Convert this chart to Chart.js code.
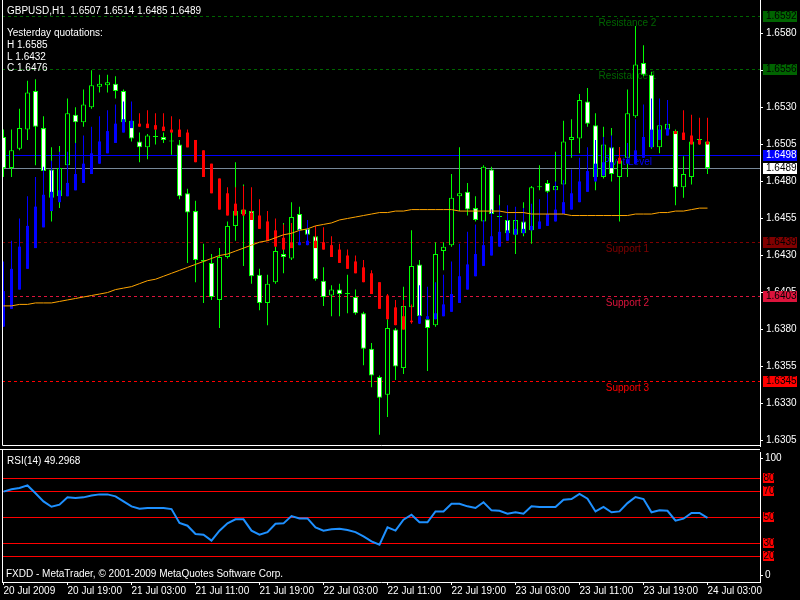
<!DOCTYPE html>
<html>
<head>
<meta charset="utf-8">
<title>GBPUSD,H1</title>
<script src="https://cdn.jsdelivr.net/npm/chart.js@4.4.1/dist/chart.umd.min.js"></script>
<style>
  html, body { margin: 0; padding: 0; background: #000; }
  #priceChart { position: absolute; left: 0; top: 0; }
  #rsiChart { position: absolute; left: 0; top: 448px; }
</style>
</head>
<body>
<canvas id="priceChart" width="800" height="447"></canvas>
<canvas id="rsiChart" width="800" height="152"></canvas>
<script>
// GBPUSD H1 - candles, smoothed Heiken Ashi, MA, pivot levels and RSI(14)

// Candles, one per hour, 20 Jul 11:00 .. 24 Jul 03:00
const candleOpen = [1.6510,1.6489,1.6502,1.6515,1.6541,1.6516,1.6488,1.6470,1.6491,1.6525,
  1.6520,1.6530,1.6544,1.6545,1.6546,1.6541,1.6521,1.6507,1.6503,1.6510,
  1.6510,1.6507,1.6505,1.6472,1.6460,1.6427,1.6425,1.6400,1.6429,1.6450,
  1.6461,1.6460,1.6417,1.6398,1.6412,1.6431,1.6428,1.6458,1.6448,1.6443,
  1.6413,1.6403,1.6407,1.6404,1.6402,1.6391,1.6367,1.6348,1.6336,1.6380,
  1.6354,1.6395,1.6424,1.6387,1.6383,1.6433,1.6437,1.6470,1.6473,1.6462,
  1.6453,1.6488,1.6456,1.6454,1.6444,1.6453,1.6447,1.6476,1.6479,1.6474,
  1.6478,1.6508,1.6509,1.6534,1.6518,1.6483,1.6503,1.6483,1.6496,1.6524,
  1.6560,1.6552,1.6503,1.6515,1.6514,1.6476,1.6483,1.6508,1.6507];
const candleHigh = [1.6515,1.6515,1.6529,1.6548,1.6549,1.6524,1.6503,1.6504,1.6536,1.6530,
  1.6542,1.6555,1.6552,1.6552,1.6551,1.6542,1.6522,1.6513,1.6512,1.6515,
  1.6513,1.6515,1.6508,1.6475,1.6467,1.6438,1.6431,1.6435,1.6453,1.6493,
  1.6478,1.6462,1.6421,1.6417,1.6436,1.6452,1.6466,1.6463,1.6450,1.6444,
  1.6422,1.6410,1.6411,1.6417,1.6407,1.6392,1.6371,1.6349,1.6387,1.6381,
  1.6409,1.6447,1.6427,1.6389,1.6439,1.6439,1.6485,1.6503,1.6479,1.6470,
  1.6491,1.6490,1.6471,1.6455,1.6455,1.6466,1.6477,1.6491,1.6481,1.6500,
  1.6521,1.6522,1.6539,1.6543,1.6526,1.6517,1.6516,1.6503,1.6542,1.6585,
  1.6572,1.6554,1.6519,1.6520,1.6515,1.6497,1.6508,1.6514,1.6514];
const candleLow = [1.6483,1.6483,1.6501,1.6508,1.6491,1.6486,1.6453,1.6462,1.6490,1.6506,
  1.6517,1.6529,1.6540,1.6540,1.6536,1.6519,1.6507,1.6493,1.6495,1.6505,
  1.6506,1.6498,1.6468,1.6425,1.6412,1.6398,1.6400,1.6381,1.6428,1.6440,
  1.6423,1.6411,1.6393,1.6383,1.6411,1.6418,1.6427,1.6442,1.6443,1.6413,
  1.6396,1.6389,1.6389,1.6391,1.6390,1.6356,1.6341,1.6309,1.6321,1.6346,
  1.6350,1.6394,1.6384,1.6352,1.6382,1.6420,1.6436,1.6460,1.6457,1.6453,
  1.6452,1.6457,1.6455,1.6444,1.6431,1.6443,1.6438,1.6474,1.6472,1.6473,
  1.6477,1.6496,1.6499,1.6517,1.6474,1.6482,1.6480,1.6453,1.6483,1.6523,
  1.6551,1.6502,1.6499,1.6514,1.6464,1.6469,1.6478,1.6505,1.6485];
const candleClose = [1.6489,1.6501,1.6516,1.6540,1.6517,1.6487,1.6469,1.6489,1.6526,1.6520,
  1.6532,1.6545,1.6546,1.6547,1.6541,1.6520,1.6509,1.6503,1.6511,1.6510,
  1.6508,1.6507,1.6470,1.6459,1.6427,1.6426,1.6402,1.6429,1.6450,1.6460,
  1.6458,1.6416,1.6398,1.6411,1.6433,1.6429,1.6456,1.6447,1.6444,1.6414,
  1.6402,1.6407,1.6404,1.6404,1.6391,1.6367,1.6349,1.6334,1.6381,1.6355,
  1.6396,1.6423,1.6389,1.6381,1.6431,1.6436,1.6469,1.6472,1.6461,1.6454,
  1.6490,1.6458,1.6456,1.6445,1.6454,1.6445,1.6476,1.6476,1.6473,1.6477,
  1.6507,1.6510,1.6535,1.6519,1.6483,1.6505,1.6485,1.6494,1.6526,1.6559,
  1.6552,1.6503,1.6518,1.6519,1.6476,1.6485,1.6507,1.6508,1.6489];

// Smoothed Heiken Ashi bars (blue up, red down)
const haOpen = [1.6382,1.6394,1.6407,1.6421,1.6435,1.6449,1.6460,1.6466,1.6470,1.6474,
  1.6479,1.6485,1.6492,1.6499,1.6506,1.6513,1.6516,1.6519,1.6519,1.6518,
  1.6517,1.6515,1.6515,1.6513,1.6508,1.6501,1.6492,1.6482,1.6472,1.6465,
  1.6461,1.6459,1.6457,1.6453,1.6447,1.6442,1.6439,1.6437,1.6437,1.6440,
  1.6439,1.6437,1.6434,1.6430,1.6426,1.6422,1.6418,1.6412,1.6403,1.6395,
  1.6389,1.6386,1.6384,1.6387,1.6387,1.6389,1.6392,1.6398,1.6407,1.6416,
  1.6423,1.6430,1.6436,1.6440,1.6444,1.6445,1.6447,1.6448,1.6450,1.6453,
  1.6458,1.6461,1.6466,1.6473,1.6480,1.6484,1.6489,1.6496,1.6492,1.6492,
  1.6496,1.6503,1.6508,1.6511,1.6514,1.6513,1.6511,1.6508,1.6507];
const haHigh = [1.6426,1.6440,1.6455,1.6470,1.6483,1.6490,1.6494,1.6500,1.6500,1.6506,
  1.6511,1.6517,1.6524,1.6528,1.6532,1.6534,1.6534,1.6526,1.6528,1.6526,
  1.6526,1.6524,1.6522,1.6515,1.6508,1.6501,1.6492,1.6482,1.6476,1.6476,
  1.6477,1.6476,1.6468,1.6460,1.6455,1.6451,1.6452,1.6448,1.6454,1.6450,
  1.6449,1.6443,1.6438,1.6434,1.6430,1.6427,1.6420,1.6412,1.6404,1.6400,
  1.6400,1.6397,1.6410,1.6409,1.6412,1.6417,1.6426,1.6438,1.6446,1.6451,
  1.6454,1.6461,1.6464,1.6464,1.6463,1.6462,1.6465,1.6468,1.6472,1.6480,
  1.6481,1.6488,1.6496,1.6503,1.6508,1.6510,1.6511,1.6503,1.6506,1.6522,
  1.6532,1.6536,1.6536,1.6535,1.6514,1.6528,1.6525,1.6523,1.6523];
const haLow = [1.6382,1.6394,1.6407,1.6421,1.6435,1.6449,1.6460,1.6466,1.6470,1.6474,
  1.6479,1.6485,1.6492,1.6499,1.6506,1.6513,1.6516,1.6517,1.6516,1.6515,
  1.6514,1.6513,1.6510,1.6503,1.6493,1.6483,1.6472,1.6461,1.6457,1.6457,
  1.6457,1.6454,1.6448,1.6440,1.6436,1.6434,1.6435,1.6437,1.6437,1.6435,
  1.6434,1.6429,1.6425,1.6421,1.6418,1.6412,1.6404,1.6394,1.6387,1.6383,
  1.6380,1.6384,1.6384,1.6387,1.6387,1.6389,1.6392,1.6398,1.6407,1.6416,
  1.6423,1.6430,1.6436,1.6440,1.6444,1.6445,1.6447,1.6448,1.6450,1.6453,
  1.6458,1.6461,1.6466,1.6473,1.6480,1.6484,1.6489,1.6492,1.6492,1.6492,
  1.6496,1.6503,1.6508,1.6511,1.6512,1.6508,1.6505,1.6505,1.6505];
const haClose = [1.6406,1.6421,1.6436,1.6450,1.6463,1.6471,1.6473,1.6474,1.6479,1.6485,
  1.6492,1.6499,1.6507,1.6514,1.6519,1.6522,1.6521,1.6517,1.6516,1.6515,
  1.6514,1.6513,1.6510,1.6503,1.6493,1.6483,1.6472,1.6461,1.6457,1.6457,
  1.6457,1.6454,1.6448,1.6440,1.6436,1.6434,1.6435,1.6439,1.6440,1.6435,
  1.6434,1.6429,1.6425,1.6421,1.6418,1.6412,1.6404,1.6394,1.6387,1.6383,
  1.6380,1.6385,1.6389,1.6389,1.6391,1.6397,1.6404,1.6416,1.6424,1.6431,
  1.6437,1.6443,1.6446,1.6447,1.6448,1.6448,1.6450,1.6453,1.6458,1.6461,
  1.6466,1.6472,1.6480,1.6487,1.6492,1.6493,1.6493,1.6492,1.6495,1.6501,
  1.6510,1.6515,1.6515,1.6516,1.6512,1.6508,1.6505,1.6505,1.6505];

// Moving average (orange)
const maValues = [1.6396,1.6396,1.6397,1.6397,1.6398,1.6398,1.6398,1.6399,1.6400,1.6401,
  1.6402,1.6403,1.6404,1.6405,1.6407,1.6408,1.6409,1.6411,1.6413,1.6414,
  1.6416,1.6418,1.6420,1.6422,1.6424,1.6426,1.6428,1.6430,1.6431,1.6433,
  1.6435,1.6437,1.6439,1.6440,1.6442,1.6444,1.6445,1.6447,1.6448,1.6450,
  1.6451,1.6452,1.6454,1.6455,1.6456,1.6457,1.6458,1.6459,1.6459,1.6460,
  1.6460,1.6461,1.6461,1.6461,1.6461,1.6461,1.6461,1.6460,1.6460,1.6460,
  1.6460,1.6460,1.6460,1.6459,1.6459,1.6459,1.6458,1.6458,1.6458,1.6458,
  1.6458,1.6457,1.6457,1.6457,1.6457,1.6457,1.6457,1.6457,1.6457,1.6458,
  1.6458,1.6458,1.6459,1.6459,1.6460,1.6460,1.6461,1.6462,1.6462];

// RSI(14)
const rsiValues = [69.5,71.3,72.3,74.3,68.3,62.0,57.9,59.5,65.1,64.6,
  65.1,66.6,67.4,67.4,65.9,62.0,58.2,56.4,56.9,56.9,
  56.9,56.1,45.4,43.3,36.9,36.4,31.8,39.5,45.1,48.2,
  48.2,39.5,36.4,38.4,44.8,45.1,50.7,48.9,48.9,42.0,
  39.5,40.5,41.0,40.0,38.4,35.1,31.3,28.7,42.0,39.5,
  47.9,51.8,45.9,45.9,54.3,54.3,60.2,60.2,58.2,56.9,
  61.3,55.1,54.8,52.5,53.6,52.5,58.2,57.7,57.7,57.7,
  63.3,63.8,67.7,64.1,54.3,57.7,53.6,54.3,60.7,65.4,
  63.8,53.6,55.1,54.8,47.2,48.7,53.1,53.1,49.3];
const rsiLevels = [20, 30, 50, 70, 80];

// Axis ticks
const priceTicks = [1.6305,1.6330,1.6355,1.6380,1.6405,1.6430,1.6455,1.6480,1.6505,1.6530,1.6555,1.6580];
const xTickBars = [0, 8, 16, 24, 32, 40, 48, 56, 64, 72, 80, 88];
const xTickLabels = ['20 Jul 2009','20 Jul 19:00','21 Jul 03:00','21 Jul 11:00','21 Jul 19:00','22 Jul 03:00',
  '22 Jul 11:00','22 Jul 19:00','23 Jul 03:00','23 Jul 11:00','23 Jul 19:00','24 Jul 03:00'];

// Pivot levels
const levelNames = ['Resistance 2','Resistance 1','Pivot Level','Support 1','Support 2','Support 3'];
const levelValues = [1.6592, 1.6556, 1.6498, 1.6439, 1.6403, 1.6345];
const levelColors = ['#006400','#006400','#0000ff','#800000','#dc143c','#ff0000'];
const levelDashed = [true, true, false, true, true, true];
const bidPrice = 1.6489;

const headerText = 'GBPUSD,H1  1.6507 1.6514 1.6485 1.6489';
const yesterdayLines = ['Yesterday quotations:', 'H 1.6585', 'L 1.6432', 'C 1.6476'];
const rsiCaption = 'RSI(14) 49.2968';
const footerText = 'FXDD - MetaTrader, \u00a9 2001-2009 MetaQuotes Software Corp.';

const FONT_FAMILY = '"Liberation Sans", Arial, sans-serif';
const FONT = '10px ' + FONT_FAMILY;
Chart.defaults.font.family = FONT_FAMILY;
Chart.defaults.font.size = 10;
Chart.defaults.color = '#ffffff';

// 8 px per bar, same x range for both panels
const X_MIN = -0.1875;
const X_MAX = X_MIN + 758 / 8;
const LEVEL_LABEL_BAR = 78;
const bars = candleOpen.map((_, i) => i);

function haColor(i) {
    return haClose[i] >= haOpen[i] ? '#0000ff' : '#ff0000';
}

const xScale = {
    type: 'linear', min: X_MIN, max: X_MAX, offset: false, display: false
};

const pricePlugin = {
    id: 'pricePlugin',
    beforeDatasetsDraw(chart) {
        const { ctx, chartArea: area, scales: { x, y } } = chart;
        ctx.save();
        ctx.lineWidth = 1;
        ctx.font = FONT;
        ctx.textAlign = 'center';
        ctx.textBaseline = 'middle';
        levelValues.forEach((v, k) => {
            const py = Math.round(y.getPixelForValue(v)) + 0.5;
            ctx.strokeStyle = levelColors[k];
            ctx.setLineDash(levelDashed[k] ? [3, 3] : []);
            ctx.beginPath();
            ctx.moveTo(area.left, py);
            ctx.lineTo(area.right, py);
            ctx.stroke();
            ctx.fillStyle = levelColors[k];
            ctx.fillText(levelNames[k], x.getPixelForValue(LEVEL_LABEL_BAR), py + 7);
        });
        // bid line
        const by = Math.round(y.getPixelForValue(bidPrice)) + 0.5;
        ctx.setLineDash([]);
        ctx.strokeStyle = '#778899';
        ctx.beginPath();
        ctx.moveTo(area.left, by);
        ctx.lineTo(area.right, by);
        ctx.stroke();
        ctx.restore();
    },
    afterDraw(chart) {
        const { ctx, chartArea: area, scales: { y } } = chart;
        const boxes = levelValues.map((v, k) => ({ value: v, bg: levelColors[k], fg: k === 2 ? '#ffffff' : '#000000' }));
        boxes.push({ value: bidPrice, bg: '#ffffff', fg: '#000000' });
        ctx.save();
        ctx.font = FONT;
        ctx.textAlign = 'left';
        ctx.textBaseline = 'middle';
        boxes.forEach(b => {
            const py = Math.round(y.getPixelForValue(b.value));
            ctx.fillStyle = b.bg;
            ctx.fillRect(area.right + 3, py - 5, 34, 11);
            ctx.fillStyle = b.fg;
            ctx.fillText(b.value.toFixed(4), area.right + 6, py + 0.5);
        });
        // frame
        ctx.strokeStyle = '#ffffff';
        ctx.lineWidth = 1;
        ctx.beginPath();
        ctx.moveTo(area.left + 0.5, area.top);
        ctx.lineTo(area.left + 0.5, area.bottom - 0.5);
        ctx.lineTo(area.right, area.bottom - 0.5);
        ctx.stroke();
        // header texts
        ctx.fillStyle = '#ffffff';
        ctx.fillText(headerText, 7, 11);
        yesterdayLines.forEach((t, k) => ctx.fillText(t, 7, 33.5 + k * 11.7));
        ctx.restore();
    }
};

new Chart(document.getElementById('priceChart'), {
    type: 'bar',
    data: {
        datasets: [
            {
                label: 'Wicks',
                data: bars.map(i => ({ x: i, y: [candleLow[i], candleHigh[i]] })),
                backgroundColor: '#00ff00',
                barThickness: 1, maxBarThickness: 1,
                grouped: false, inflateAmount: 0, order: 5
            },
            {
                label: 'Bodies',
                data: bars.map(i => ({ x: i, y: [candleOpen[i], candleClose[i]] })),
                backgroundColor: c => candleClose[c.dataIndex] < candleOpen[c.dataIndex] ? '#ffffff' : '#000000',
                borderColor: '#00ff00', borderWidth: 1, borderSkipped: false,
                barThickness: 5, maxBarThickness: 5, minBarLength: 1,
                grouped: false, inflateAmount: 0, order: 4
            },
            {
                label: 'HA wicks',
                data: bars.map(i => ({ x: i, y: [haLow[i], haHigh[i]] })),
                backgroundColor: c => haColor(c.dataIndex),
                barThickness: 1, maxBarThickness: 1, minBarLength: 1,
                grouped: false, inflateAmount: 0, order: 3
            },
            {
                label: 'HA bodies',
                data: bars.map(i => ({ x: i, y: [haOpen[i], haClose[i]] })),
                backgroundColor: c => haColor(c.dataIndex),
                barThickness: 3, maxBarThickness: 3, minBarLength: 1,
                grouped: false, inflateAmount: 0, order: 2
            },
            {
                type: 'line',
                label: 'MA',
                data: bars.map(i => ({ x: i, y: maValues[i] })),
                borderColor: '#ffa500', borderWidth: 1,
                pointRadius: 0, tension: 0, order: 1
            }
        ]
    },
    options: {
        responsive: false,
        animation: false,
        events: [],
        layout: { padding: { left: 2, right: 0, top: 0, bottom: 1 } },
        plugins: { legend: { display: false }, tooltip: { enabled: false } },
        scales: {
            x: xScale,
            y: {
                type: 'linear', position: 'right',
                min: 1.630142, max: 1.660248, beginAtZero: false,
                afterBuildTicks: s => { s.ticks = priceTicks.map(v => ({ value: v })); },
                afterFit: s => { s.width = 40; s.paddingTop = 0; s.paddingBottom = 0; },
                ticks: { color: '#ffffff', padding: 3, callback: v => Number(v).toFixed(4) },
                grid: { drawOnChartArea: false, tickLength: 3, tickColor: '#ffffff' },
                border: { color: '#ffffff' }
            }
        }
    },
    plugins: [pricePlugin]
});

const rsiPlugin = {
    id: 'rsiPlugin',
    beforeDatasetsDraw(chart) {
        const { ctx, chartArea: area, scales: { y } } = chart;
        ctx.save();
        ctx.strokeStyle = '#ff0000';
        ctx.lineWidth = 1;
        rsiLevels.forEach(v => {
            const py = Math.round(y.getPixelForValue(v)) + 0.5;
            ctx.beginPath();
            ctx.moveTo(area.left, py);
            ctx.lineTo(area.right, py);
            ctx.stroke();
        });
        ctx.restore();
    },
    afterDraw(chart) {
        const { ctx, chartArea: area, scales: { y } } = chart;
        ctx.save();
        ctx.strokeStyle = '#ffffff';
        ctx.lineWidth = 1;
        ctx.beginPath();
        ctx.moveTo(0, 1.5);
        ctx.lineTo(area.right, 1.5);
        ctx.moveTo(area.left + 0.5, 1);
        ctx.lineTo(area.left + 0.5, area.bottom);
        ctx.stroke();
        ctx.font = FONT;
        ctx.textAlign = 'left';
        ctx.textBaseline = 'middle';
        // level boxes on the axis
        rsiLevels.forEach(v => {
            const py = Math.round(y.getPixelForValue(v));
            ctx.save();
            ctx.beginPath();
            ctx.rect(area.right + 3, py - 5, 11, 10);
            ctx.clip();
            ctx.fillStyle = '#ff0000';
            ctx.fillRect(area.right + 3, py - 5, 11, 10);
            ctx.fillStyle = '#000000';
            ctx.fillText(String(v), area.right + 3.5, py + 0.5);
            ctx.restore();
        });
        // 100 / 0 labels sit inside the panel
        ctx.fillStyle = '#ffffff';
        const top = Math.round(y.getPixelForValue(100)) + 6;
        const bot = Math.round(y.getPixelForValue(0)) - 7;
        ctx.fillText('100', area.right + 5, top + 0.5);
        ctx.fillText('0', area.right + 5, bot + 0.5);
        ctx.beginPath();
        ctx.moveTo(area.right, top + 0.5);
        ctx.lineTo(area.right + 3, top + 0.5);
        ctx.moveTo(area.right, bot + 0.5);
        ctx.lineTo(area.right + 3, bot + 0.5);
        ctx.stroke();
        ctx.fillText(rsiCaption, 7, area.top + 9.5);
        ctx.fillText(footerText, 6, area.top + 122);
        ctx.restore();
    }
};

new Chart(document.getElementById('rsiChart'), {
    type: 'line',
    data: {
        datasets: [{
            label: 'RSI(14)',
            data: bars.map(i => ({ x: i, y: rsiValues[i] })),
            borderColor: '#1e90ff', borderWidth: 2,
            pointRadius: 0, tension: 0
        }]
    },
    options: {
        responsive: false,
        animation: false,
        events: [],
        layout: { padding: { left: 2, right: 0, top: 4, bottom: 0 } },
        plugins: { legend: { display: false }, tooltip: { enabled: false } },
        scales: {
            x: {
                type: 'linear', position: 'bottom', min: X_MIN, max: X_MAX, offset: false,
                afterBuildTicks: s => { s.ticks = xTickBars.map(v => ({ value: v })); },
                afterFit: s => { s.height = 18; s.paddingLeft = 0; s.paddingRight = 0; },
                ticks: {
                    color: '#ffffff', padding: 0, align: 'start',
                    maxRotation: 0, autoSkip: false,
                    callback: (v, i) => xTickLabels[i]
                },
                grid: { drawOnChartArea: false, tickLength: 3, tickColor: '#ffffff' },
                border: { color: '#ffffff' }
            },
            y: {
                type: 'linear', position: 'right', min: 0, max: 100,
                afterBuildTicks: s => { s.ticks = rsiLevels.map(v => ({ value: v })); },
                afterFit: s => { s.width = 40; s.paddingTop = 0; s.paddingBottom = 0; },
                ticks: { display: false },
                grid: { display: false },
                border: { color: '#ffffff' }
            }
        }
    },
    plugins: [rsiPlugin]
});
</script>
</body>
</html>
